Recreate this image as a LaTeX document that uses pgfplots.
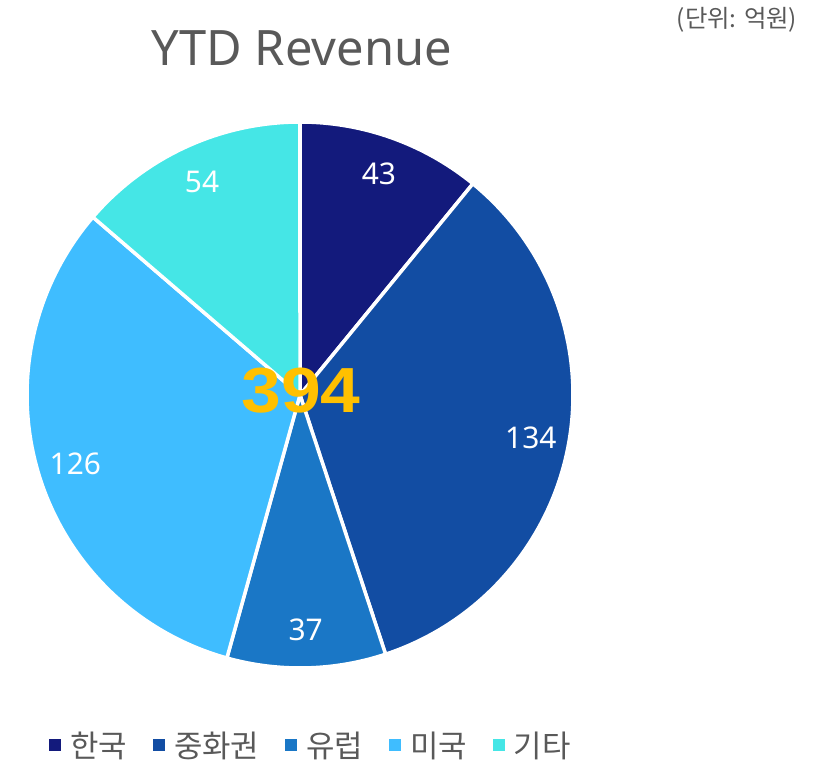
\documentclass[border=0pt]{standalone}
\usepackage{fontspec}
\setmainfont{Noto Sans}
\newfontfamily\kr{Noto Sans CJK KR}
\newfontfamily\bignum{Liberation Sans}
\usepackage{pgfplots}
\usepackage{pgfplotstable}
\pgfplotsset{compat=1.18}

\definecolor{cKR}{HTML}{131A7C}
\definecolor{cCN}{HTML}{124DA3}
\definecolor{cEU}{HTML}{1A77C6}
\definecolor{cUS}{HTML}{3FBDFF}
\definecolor{cET}{HTML}{45E6E6}
\definecolor{txtgray}{HTML}{595959}
\definecolor{gold}{HTML}{FFC000}

% revenue by region (억원)
\pgfplotstableread{
name value
한국 43
중화권 134
유럽 37
미국 126
기타 54
}\piedata

% pie geometry in picture units (px)
\def\cx{300}
\def\cy{368}
\def\R{273}

% total and cumulative angles, clockwise from 12 o'clock
\xdef\total{0}
\foreach \i in {0,...,4}{%
  \pgfplotstablegetelem{\i}{value}\of\piedata
  \pgfmathparse{\total+\pgfplotsretval}\xdef\total{\pgfmathresult}}
\pgfmathtruncatemacro\totalint{\total}
\pgfmathsetmacro\degper{360/\total}
\xdef\degper{\degper}
\xdef\cum{0}
\foreach \i in {0,...,4}{%
  \pgfplotstablegetelem{\i}{value}\of\piedata
  \let\val\pgfplotsretval
  \pgfmathsetmacro\s{90-\degper*\cum}
  \pgfmathsetmacro\e{90-\degper*(\cum+\val)}
  \pgfmathsetmacro\m{(\s+\e)/2}
  \expandafter\xdef\csname sA\i\endcsname{\s}
  \expandafter\xdef\csname sB\i\endcsname{\e}
  \expandafter\xdef\csname sM\i\endcsname{\m}
  \expandafter\xdef\csname sV\i\endcsname{\val}
  \pgfmathparse{\cum+\val}\xdef\cum{\pgfmathresult}
  \pgfplotstablegetelem{\i}{name}\of\piedata
  \expandafter\xdef\csname sN\i\endcsname{\pgfplotsretval}}

\newcommand\slice[2]{%
  \edef\tmp{\noexpand\addplot[fill=#2, draw=white, line width=3.5bp,
      domain=\csname sB#1\endcsname:\csname sA#1\endcsname, samples=90,
      variable=\noexpand\t]
    ({\cx+\R*cos(\noexpand\t)},{\cy+\R*sin(\noexpand\t)}) -- (axis cs:\cx,\cy) -- cycle;
    \noexpand\addlegendentry{\csname sN#1\endcsname}}%
  \tmp}

\newcommand\slicelabel[1]{%
  \edef\tmp{\noexpand\node[text height=21.5bp, text depth=0pt, inner sep=0pt,
      text=white, font=\noexpand\fontsize{30}{32}\noexpand\selectfont]
    at (axis cs:{\cx+0.86*\R*cos(\csname sM#1\endcsname)},{\cy+0.86*\R*sin(\csname sM#1\endcsname)})
    {\csname sV#1\endcsname};}%
  \tmp}

\begin{document}
\begin{tikzpicture}
\begin{axis}[
    scale only axis,
    width=831bp, height=763bp,
    xmin=0, xmax=831, ymin=0, ymax=763,
    hide axis,
    clip=false,
    legend columns=5,
    legend style={draw=none, fill=none,
        at={(axis cs:310,18)}, anchor=center,
        nodes={font=\kr\fontsize{31}{33}\selectfont, text=txtgray, inner xsep=0pt},
        /tikz/every even column/.append style={column sep=26bp},
        /tikz/every odd column/.append style={column sep=9bp}},
    legend image code/.code={\fill[#1, draw=none] (0bp,-6bp) rectangle (12bp,6bp);},
]
\path (rel axis cs:0,0) rectangle (rel axis cs:1,1);
\slice{0}{cKR}
\slice{1}{cCN}
\slice{2}{cEU}
\slice{3}{cUS}
\slice{4}{cET}
\slicelabel{0}
\slicelabel{1}
\slicelabel{2}
\slicelabel{3}
\slicelabel{4}
\node[text height=46bp, text depth=0pt, inner sep=0pt, text=gold, xscale=1.12,
      font=\bignum\fontsize{64}{66}\selectfont\bfseries] at (axis cs:301,373)
  {\totalint};
\node[text=txtgray, font=\fontsize{49}{52}\selectfont] at (axis cs:302,715) {YTD Revenue};
\node[text=txtgray, font=\kr\fontsize{24.5}{26}\selectfont] at (axis cs:737,743) {(단위: 억원)};
\end{axis}
\end{tikzpicture}
\end{document}
